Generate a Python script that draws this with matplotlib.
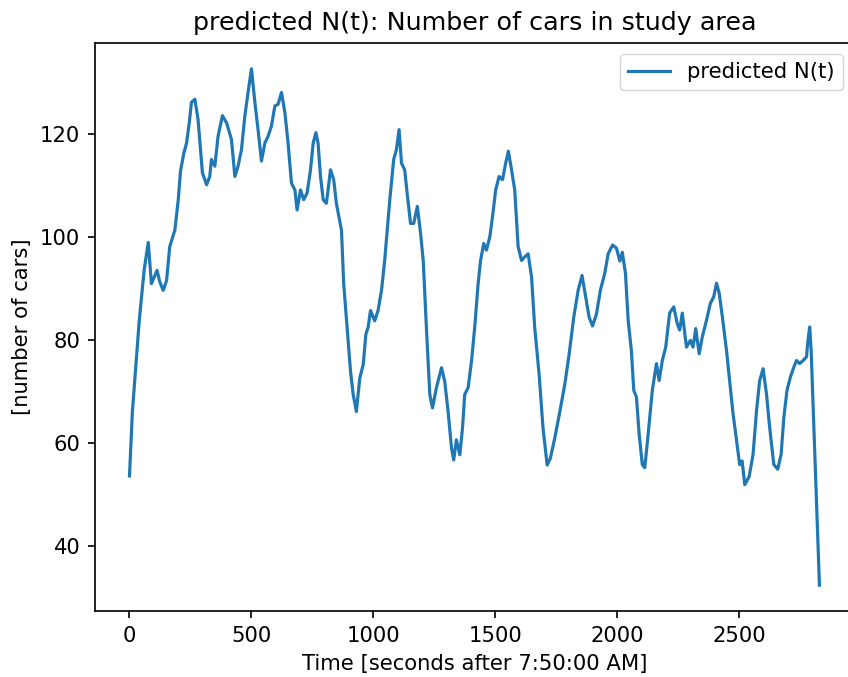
import matplotlib.pyplot as plt

# predicted N(t)
t_sec = [0, 12, 29, 40, 60, 77, 90, 113, 124, 138, 152, 165, 186, 200, 209,
         223, 234, 245, 254, 268, 281, 299, 316, 329, 336, 350, 363, 381, 398,
         418, 432, 445, 459, 473, 486, 500, 514, 527, 541, 555, 568, 582, 596,
         609, 623, 637, 650, 664, 678, 687, 701, 714, 728, 742, 753, 764, 773,
         783, 794, 807, 814, 824, 837, 848, 869, 878, 892, 906, 917, 930, 944,
         958, 969, 978, 988, 1005, 1019, 1033, 1046, 1067, 1083, 1094, 1105,
         1115, 1128, 1138, 1152, 1165, 1180, 1193, 1204, 1217, 1231, 1242,
         1258, 1279, 1292, 1306, 1320, 1329, 1340, 1354, 1365, 1374, 1388,
         1402, 1415, 1429, 1439, 1452, 1463, 1477, 1488, 1501, 1515, 1529,
         1542, 1553, 1566, 1579, 1593, 1607, 1620, 1634, 1648, 1661, 1679,
         1695, 1712, 1725, 1743, 1764, 1784, 1802, 1821, 1839, 1855, 1870,
         1884, 1898, 1914, 1930, 1948, 1962, 1980, 1996, 2010, 2020, 2033,
         2044, 2057, 2067, 2078, 2089, 2102, 2112, 2126, 2143, 2160, 2171,
         2184, 2198, 2214, 2231, 2245, 2255, 2266, 2283, 2299, 2310, 2321,
         2335, 2348, 2365, 2381, 2395, 2406, 2417, 2430, 2447, 2460, 2474,
         2485, 2501, 2511, 2522, 2540, 2556, 2570, 2583, 2597, 2611, 2624,
         2641, 2657, 2671, 2682, 2695, 2709, 2723, 2734, 2747, 2761, 2775,
         2781, 2788, 2794, 2828]
n_cars = [53.6, 66.1, 76.9, 83.7, 93.5, 98.9, 90.9, 93.5, 91.3, 89.6, 91.5,
          98.1, 101.3, 107.2, 112.7, 116.3, 118.2, 122.1, 126.1, 126.7, 122.8,
          112.4, 110.1, 111.7, 115.0, 113.7, 119.5, 123.5, 122.1, 118.9, 111.7,
          113.7, 116.9, 123.5, 128.0, 132.6, 126.1, 120.8, 114.7, 118.2, 119.5,
          121.5, 125.4, 125.7, 128.0, 124.1, 118.2, 110.4, 109.1, 105.2, 109.1,
          107.2, 108.5, 113.0, 118.2, 120.2, 118.2, 111.7, 107.2, 106.5, 109.1,
          113.0, 111.1, 106.5, 101.3, 90.9, 82.4, 73.9, 69.4, 66.1, 72.6, 75.2,
          81.1, 82.4, 85.7, 83.7, 85.7, 89.6, 95.4, 107.2, 115.0, 116.9, 120.8,
          114.3, 113.0, 108.5, 102.6, 102.6, 105.9, 100.7, 95.4, 82.4, 69.4,
          66.8, 70.7, 74.6, 72.0, 66.1, 59.0, 56.7, 60.6, 57.7, 62.9, 69.4,
          70.7, 75.9, 82.4, 90.9, 95.4, 98.7, 97.4, 100.0, 103.9, 109.1, 111.7,
          111.1, 114.3, 116.6, 113.0, 109.1, 98.1, 95.4, 96.1, 96.7, 92.2,
          82.4, 73.3, 62.9, 55.7, 57.0, 60.9, 66.1, 71.3, 77.2, 84.4, 89.6,
          92.5, 88.3, 84.4, 82.7, 85.0, 89.6, 92.9, 96.7, 98.4, 97.8, 95.3,
          97.0, 92.9, 83.8, 78.0, 70.2, 68.9, 61.7, 55.8, 55.2, 61.7, 70.2,
          75.4, 72.1, 76.0, 78.6, 85.2, 86.4, 83.2, 81.9, 85.2, 78.6, 79.9,
          78.6, 82.2, 77.3, 80.6, 83.8, 87.1, 88.4, 91.0, 89.1, 84.5, 78.0,
          72.1, 65.6, 61.7, 55.8, 56.5, 51.9, 53.5, 57.8, 66.2, 72.1, 74.4,
          69.5, 63.0, 55.8, 54.9, 57.8, 64.9, 70.2, 72.8, 74.7, 76.0, 75.4,
          76.0, 76.7, 79.9, 82.5, 78.0, 32.4]

k = 1.52  # the reference looks like a default chart rendered at a larger scale
fs = 10 * k
fig = plt.figure(figsize=(8.48, 6.77), dpi=100)
# the reference is cut off on the right, so the axes run past the figure edge
ax = fig.add_axes([0.112, 0.0975, 0.895, 0.839])

ax.plot(t_sec, n_cars, color='#1f77b4', linewidth=1.5 * k, label='predicted N(t)')

ax.set_title('predicted N(t): Number of cars in study area', fontsize=12 * k, pad=6 * k)
ax.set_xlabel('Time [seconds after 7:50:00 AM]', fontsize=fs, labelpad=4 * k)
ax.set_ylabel('[number of cars]', fontsize=fs, labelpad=4 * k)
ax.set_yticks([40, 60, 80, 100, 120])
ax.tick_params(labelsize=fs, length=3.5 * k, width=0.8 * k, pad=3.5 * k)
for s in ax.spines.values():
    s.set_linewidth(0.8 * k)
ax.legend(loc='upper right', fontsize=fs)

fig.savefig('out.png', dpi=100)
